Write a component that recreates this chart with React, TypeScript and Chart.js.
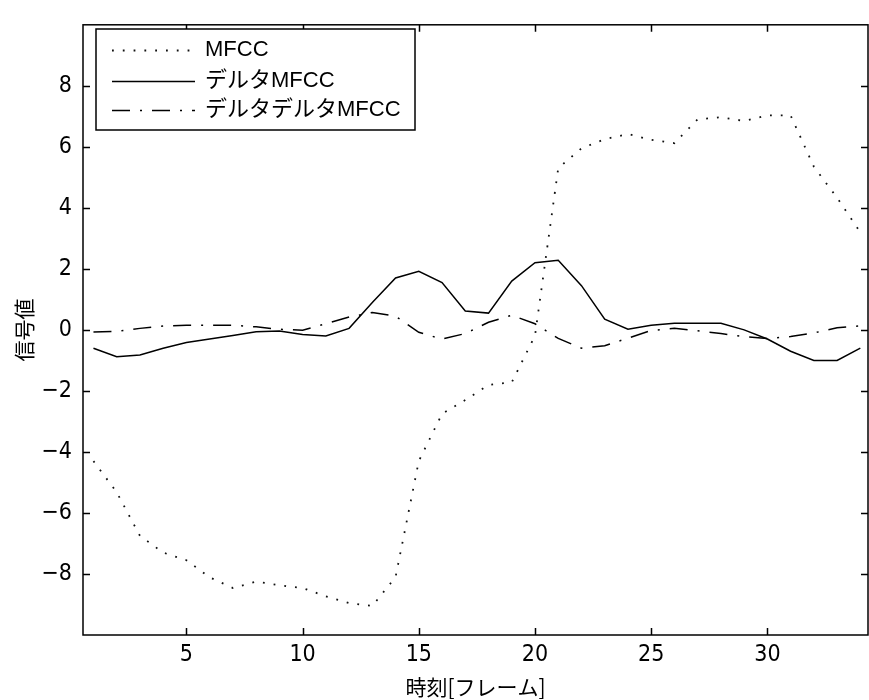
import { useEffect, useRef } from "react";
import { Chart, registerables } from "chart.js";

Chart.register(...registerables);

const frames = [1, 2, 3, 4, 5, 6, 7, 8, 9, 10, 11, 12, 13, 14, 15, 16, 17, 18, 19, 20, 21, 22, 23, 24, 25, 26, 27, 28, 29, 30, 31, 32, 33, 34];
const mfcc = [-4.3, -5.32, -6.75, -7.3, -7.55, -8.11, -8.46, -8.25, -8.37, -8.46, -8.73, -8.95, -9.05, -8.1, -4.3, -2.75, -2.3, -1.8, -1.72, -0.19, 5.3, 5.95, 6.25, 6.42, 6.23, 6.12, 6.9, 6.97, 6.85, 7.03, 7.03, 5.35, 4.33, 3.2];
const deltaMfcc = [-0.6, -0.88, -0.82, -0.6, -0.41, -0.3, -0.18, -0.06, -0.04, -0.15, -0.2, 0.05, 0.9, 1.7, 1.92, 1.55, 0.62, 0.55, 1.6, 2.2, 2.28, 1.45, 0.35, 0.02, 0.15, 0.22, 0.22, 0.22, 0.0, -0.3, -0.7, -1.0, -1.0, -0.6];
const deltaDeltaMfcc = [-0.07, -0.05, 0.05, 0.13, 0.15, 0.15, 0.15, 0.1, 0.02, -0.01, 0.2, 0.42, 0.57, 0.45, -0.08, -0.3, -0.12, 0.25, 0.48, 0.2, -0.28, -0.6, -0.52, -0.27, -0.02, 0.05, -0.03, -0.12, -0.22, -0.28, -0.22, -0.1, 0.07, 0.13];
const seriesLabels = ["MFCC", "デルタMFCC", "デルタデルタMFCC"];
const xTicks = [5, 10, 15, 20, 25, 30];
const yTicks = [-8, -6, -4, -2, 0, 2, 4, 6, 8];
const xTitle = "時刻[フレーム]";
const yTitle = "信号値";

const tickFont = "'Liberation Sans Narrow', 'DejaVu Sans Condensed', 'Liberation Sans', sans-serif";
const legendFont = "22px 'Liberation Sans', 'Noto Sans CJK JP', sans-serif";
const cjkFont = "'Noto Sans CJK JP', sans-serif";

const toPoints = (ys: number[]) => frames.map((f, i) => ({ x: f, y: ys[i] }));

const frameTicks = {
  id: "frameTicks",
  afterDraw(chart: any) {
    const { ctx, chartArea: a, scales } = chart;
    const x = scales.x;
    const y = scales.y;
    ctx.save();
    ctx.strokeStyle = "#000";
    ctx.lineWidth = 1.5;
    ctx.setLineDash([]);
    ctx.strokeRect(a.left, a.top, a.right - a.left, a.bottom - a.top);
    const L = 7;
    ctx.beginPath();
    x.ticks.forEach((t: any) => {
      const px = Math.round(x.getPixelForValue(t.value)) + 0.5;
      ctx.moveTo(px, a.bottom);
      ctx.lineTo(px, a.bottom - L);
      ctx.moveTo(px, a.top);
      ctx.lineTo(px, a.top + L);
    });
    y.ticks.forEach((t: any) => {
      const py = Math.round(y.getPixelForValue(t.value)) + 0.5;
      ctx.moveTo(a.left, py);
      ctx.lineTo(a.left + L, py);
      ctx.moveTo(a.right, py);
      ctx.lineTo(a.right - L, py);
    });
    ctx.stroke();
    ctx.restore();
  },
};

const boxedLegend = {
  id: "boxedLegend",
  afterDraw(chart: any) {
    const { ctx } = chart;
    const bx = 96, by = 29, bw = 319, bh = 101;
    ctx.save();
    ctx.fillStyle = "#fff";
    ctx.fillRect(bx, by, bw, bh);
    ctx.strokeStyle = "#000";
    ctx.lineWidth = 1.5;
    ctx.setLineDash([]);
    ctx.strokeRect(bx, by, bw, bh);
    const rows = [50, 80.5, 110];
    chart.data.datasets.forEach((ds: any, i: number) => {
      const ry = Math.round(rows[i]) + 0.5;
      ctx.beginPath();
      ctx.strokeStyle = ds.borderColor;
      ctx.lineWidth = ds.borderWidth;
      ctx.setLineDash(ds.borderDash || []);
      ctx.moveTo(112, ry);
      ctx.lineTo(195, ry);
      ctx.stroke();
      ctx.setLineDash([]);
      ctx.fillStyle = "#000";
      ctx.font = legendFont;
      ctx.textBaseline = "middle";
      ctx.textAlign = "left";
      ctx.fillText(ds.label, 205, rows[i]);
    });
    ctx.restore();
  },
};

export default function App() {
  const ref = useRef<HTMLCanvasElement>(null);
  useEffect(() => {
    document.body.style.margin = "0";
    const chart = new Chart(ref.current as HTMLCanvasElement, {
      type: "line",
      data: {
        datasets: [
          {
            label: seriesLabels[0],
            data: toPoints(mfcc),
            borderColor: "#111",
            borderWidth: 1.8,
            borderDash: [1.8, 9],
            pointRadius: 0,
            tension: 0,
          },
          {
            label: seriesLabels[1],
            data: toPoints(deltaMfcc),
            borderColor: "#000",
            borderWidth: 1.5,
            borderDash: [],
            pointRadius: 0,
            tension: 0,
          },
          {
            label: seriesLabels[2],
            data: toPoints(deltaDeltaMfcc),
            borderColor: "#000",
            borderWidth: 1.5,
            borderDash: [18, 10, 2, 10],
            pointRadius: 0,
            tension: 0,
          },
        ],
      },
      options: {
        animation: false,
        responsive: false,
        maintainAspectRatio: false,
        layout: { padding: { top: 14, right: 1, bottom: 0, left: 0 } },
        plugins: {
          legend: { display: false },
          tooltip: { enabled: false },
        },
        scales: {
          x: {
            type: "linear",
            min: 0.55,
            max: 34.33,
            afterBuildTicks: (s: any) => {
              s.ticks = xTicks.map((v) => ({ value: v }));
            },
            afterFit: (s: any) => {
              s.height = 65;
            },
            grid: { display: false, drawTicks: false },
            border: { display: false },
            ticks: {
              padding: 6,
              color: "#000",
              font: { family: tickFont, size: 23 },
              maxRotation: 0,
              autoSkip: false,
            },
            title: {
              display: true,
              text: xTitle,
              color: "#000",
              font: { family: cjkFont, size: 21 },
              padding: { top: 0, bottom: 0 },
            },
          },
          y: {
            type: "linear",
            min: -10,
            max: 10,
            afterBuildTicks: (s: any) => {
              s.ticks = yTicks.map((v) => ({ value: v }));
            },
            afterFit: (s: any) => {
              s.width = 83;
            },
            grid: { display: false, drawTicks: false },
            border: { display: false },
            ticks: {
              padding: 11,
              color: "#000",
              font: { family: tickFont, size: 23 },
              autoSkip: false,
              callback: (v: any) => String(v).replace("-", "\u2212"),
            },
            title: {
              display: true,
              text: yTitle,
              color: "#000",
              font: { family: cjkFont, size: 21 },
              padding: { top: 11, bottom: 0 },
            },
          },
        },
      },
      plugins: [frameTicks, boxedLegend],
    } as any);
    return () => chart.destroy();
  }, []);
  return (
    <div style={{ width: 869, height: 700 }}>
      <canvas ref={ref} width={869} height={700} style={{ display: "block", width: 869, height: 700 }} />
    </div>
  );
}
